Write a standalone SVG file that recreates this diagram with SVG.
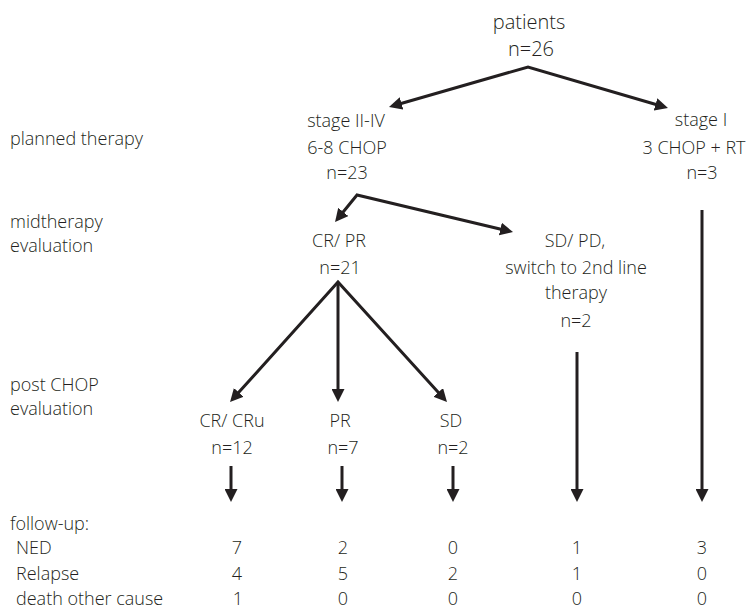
<svg xmlns="http://www.w3.org/2000/svg" width="749" height="609" viewBox="0 0 749 609">
<style>
text{font-family:"Open Sans","Noto Sans","Liberation Sans",sans-serif;font-size:18px;font-weight:300;fill:#231f20}
.c{text-anchor:middle}
.big{font-size:20px}
.ln{fill:none;stroke:#231f20;stroke-width:3;marker-end:url(#ah)}
.v{marker-start:url(#ah)}
</style>
<defs>
<marker id="ah" markerUnits="userSpaceOnUse" markerWidth="13" markerHeight="13" refX="5" refY="6.5" orient="auto-start-reverse">
<path d="M0,0 L13,6.5 L0,13 z" fill="#231f20"/>
</marker>
</defs>
<rect width="749" height="609" fill="#ffffff"/>
<g id="labels">
<text x="10" y="145">planned therapy</text>
<text x="10" y="228">midtherapy</text>
<text x="10" y="252">evaluation</text>
<text x="10" y="391">post CHOP</text>
<text x="10" y="415">evaluation</text>
<text x="10" y="530">follow-up:</text>
<text x="16" y="554">NED</text>
<text x="16" y="580">Relapse</text>
<text x="16" y="605">death other cause</text>
</g>
<g id="patients"><text class="c big" x="529" y="29">patients</text><text class="c big" x="531" y="56">n=26</text></g>
<g id="stage-ii-iv"><text class="c" x="346" y="127">stage II-IV</text><text class="c" x="347" y="154">6-8 CHOP</text><text class="c" x="347" y="179">n=23</text></g>
<g id="stage-i"><text class="c" x="701" y="126">stage I</text><text class="c" x="694" y="154">3 CHOP + RT</text><text class="c" x="702" y="179">n=3</text></g>
<g id="cr-pr"><text class="c" x="339" y="247">CR/ PR</text><text class="c" x="340" y="274">n=21</text></g>
<g id="sd-pd"><text class="c" x="575" y="247">SD/ PD,</text><text class="c" x="576" y="274">switch to 2nd line</text><text class="c" x="576" y="299">therapy</text><text class="c" x="576" y="327">n=2</text></g>
<g id="cr-cru"><text class="c" x="232" y="427">CR/ CRu</text><text class="c" x="232" y="454">n=12</text></g>
<g id="pr"><text class="c" x="340" y="427">PR</text><text class="c" x="343" y="454">n=7</text></g>
<g id="sd"><text class="c" x="451" y="427">SD</text><text class="c" x="453" y="454">n=2</text></g>
<g id="followup-values">
<text class="c" x="237" y="554">7</text><text class="c" x="237" y="580">4</text><text class="c" x="238" y="605">1</text>
<text class="c" x="343" y="554">2</text><text class="c" x="343" y="580">5</text><text class="c" x="343" y="605">0</text>
<text class="c" x="453" y="554">0</text><text class="c" x="453" y="580">2</text><text class="c" x="453" y="605">0</text>
<text class="c" x="577" y="554">1</text><text class="c" x="577" y="580">1</text><text class="c" x="577" y="605">0</text>
<text class="c" x="702" y="554">3</text><text class="c" x="702" y="580">0</text><text class="c" x="702" y="605">0</text>
</g>
<g id="connectors">
<path class="ln v" d="M396.7,104.8 L528,67 L660.3,105.8"/>
<path class="ln v" d="M340.1,215.8 L357,195 L505.2,230.2"/>
<path class="ln v" d="M235.4,396.1 L338,282 L441.6,396.1"/>
<path class="ln" d="M338,282 L338,394"/>
<path class="ln" d="M231,466 L231,494"/>
<path class="ln" d="M342,466 L342,494"/>
<path class="ln" d="M453,466 L453,494"/>
<path class="ln" d="M577,352 L577,494"/>
<path class="ln" d="M702,210 L702,494"/>
</g>
</svg>
